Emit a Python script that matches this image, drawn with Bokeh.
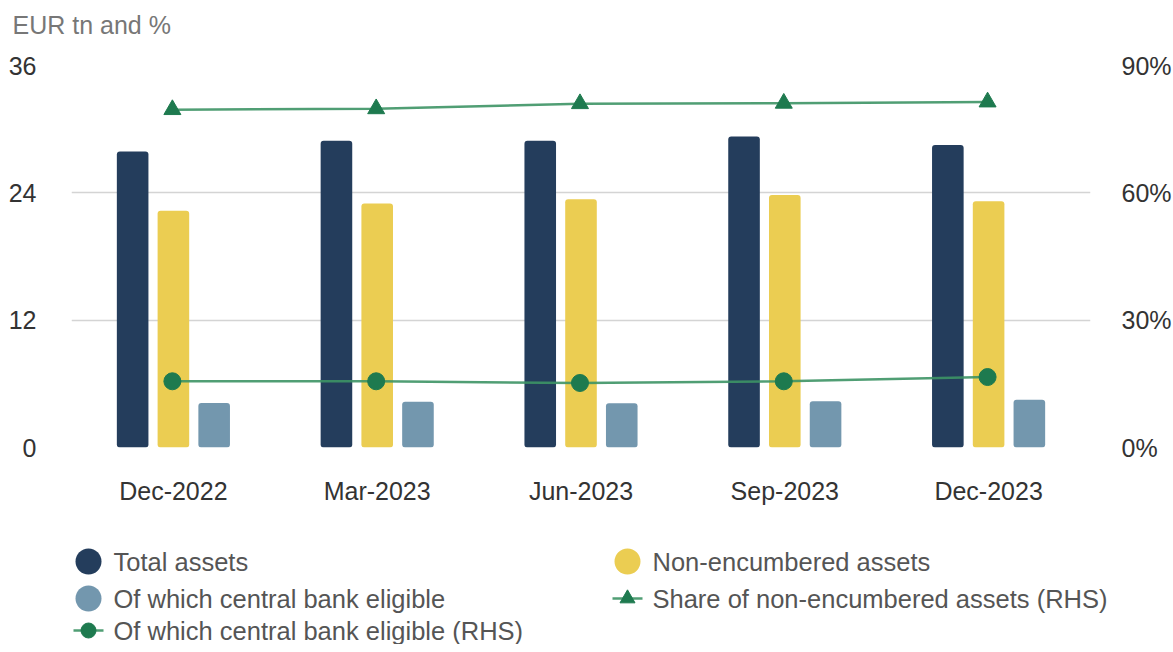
from bokeh.plotting import figure
from bokeh.models import ColumnDataSource, Range1d, LinearAxis, FactorRange, FixedTicker, CustomJSTickFormatter
from bokeh.transform import dodge
from bokeh.layouts import column
from bokeh.core.properties import value
from bokeh.embed import file_html
from bokeh.resources import INLINE

# ---- data ----
categories = ["Dec-2022", "Mar-2023", "Jun-2023", "Sep-2023", "Dec-2023"]
total_assets = [27.9, 28.9, 28.9, 29.3, 28.5]
non_encumbered = [22.3, 23.0, 23.4, 23.8, 23.2]
cb_eligible = [4.2, 4.3, 4.17, 4.36, 4.5]
share_non_enc = [79.6, 79.8, 81.0, 81.1, 81.4]
share_cb_eligible = [15.6, 15.6, 15.2, 15.6, 16.6]
left_ticks = [0, 12, 24, 36]
right_ticks = [0, 30, 60, 90]
title_text = "EUR tn and %"

series_names = ["Total assets", "Non-encumbered assets", "Of which central bank eligible",
                "Share of non-encumbered assets (RHS)", "Of which central bank eligible (RHS)"]

FONT = "Liberation Sans"
C_TOTAL = "#243d5c"
C_NONENC = "#ebcd52"
C_CB = "#7397ae"
C_GREEN = "#1e7a4f"
C_LINE = "#3d9465"
C_TICK = "#333333"

W = 1165

src = ColumnDataSource(dict(cat=categories, total=total_assets, nonenc=non_encumbered, cb=cb_eligible,
                            share=share_non_enc, cbshare=share_cb_eligible))


def no_align(f):
    if "frame_align" in f.properties():
        f.frame_align = False


# ---- title strip ----
TH = 50
tf = figure(width=W, height=TH, x_range=Range1d(0, W), y_range=Range1d(TH, 0),
            output_backend="svg", toolbar_location=None, min_border=0,
            x_axis_location=None, y_axis_location=None)
tf.outline_line_color = None
tf.xgrid.visible = False
tf.ygrid.visible = False
tf.text(x=[12], y=[24], text=[title_text], text_font=value(FONT), text_font_size="25px",
        text_color="#777777", text_baseline="middle", text_align="left")
no_align(tf)

# ---- main chart ----
p = figure(x_range=FactorRange(*categories), y_range=Range1d(0, 36),
           frame_width=1019, frame_height=382,
           output_backend="svg", toolbar_location=None,
           min_border_left=71, min_border_right=0, min_border_top=15, min_border_bottom=70)
p.extra_y_ranges = {"pct": Range1d(0, 90)}
p.outline_line_color = None
no_align(p)

bw = 0.155
p.vbar(x=dodge("cat", -0.2, range=p.x_range), top="total", width=bw, source=src,
       fill_color=C_TOTAL, line_color=None, border_radius=3)
p.vbar(x=dodge("cat", 0.0, range=p.x_range), top="nonenc", width=bw, source=src,
       fill_color=C_NONENC, line_color=None, border_radius=3)
p.vbar(x=dodge("cat", 0.2, range=p.x_range), top="cb", width=bw, source=src,
       fill_color=C_CB, line_color=None, border_radius=3)

xl = dodge("cat", -0.005, range=p.x_range)
p.line(x=xl, y="share", source=src, y_range_name="pct",
       line_color=C_LINE, line_width=2.5, line_alpha=0.9)
p.scatter(x=xl, y="share", source=src, y_range_name="pct",
          marker="triangle", size=17, fill_color=C_GREEN, line_color=C_GREEN)
p.line(x=xl, y="cbshare", source=src, y_range_name="pct",
       line_color=C_LINE, line_width=2.5, line_alpha=0.9)
p.scatter(x=xl, y="cbshare", source=src, y_range_name="pct",
          marker="circle", size=17, fill_color=C_GREEN, line_color=C_GREEN)

p.xaxis.axis_line_color = None
p.xaxis.major_tick_line_color = None
p.xaxis.minor_tick_line_color = None
p.xaxis.major_label_text_font = FONT
p.xaxis.major_label_text_font_size = "25px"
p.xaxis.major_label_text_color = C_TICK
p.xaxis.major_label_standoff = 23
p.xgrid.grid_line_color = None

p.yaxis.ticker = FixedTicker(ticks=left_ticks)
p.yaxis.axis_line_color = None
p.yaxis.major_tick_line_color = None
p.yaxis.minor_tick_line_color = None
p.yaxis.major_label_text_font = FONT
p.yaxis.major_label_text_font_size = "25px"
p.yaxis.major_label_text_color = C_TICK
p.yaxis.major_label_standoff = 29
p.ygrid.ticker = FixedTicker(ticks=left_ticks)
p.ygrid.grid_line_color = "#d4d4d4"
p.ygrid.grid_line_width = 1.5

ra = LinearAxis(y_range_name="pct", ticker=FixedTicker(ticks=right_ticks),
                formatter=CustomJSTickFormatter(code="return tick + '%'"))
ra.axis_line_color = None
ra.major_tick_line_color = None
ra.minor_tick_line_color = None
ra.major_label_text_font = FONT
ra.major_label_text_font_size = "25px"
ra.major_label_text_color = C_TICK
ra.major_label_standoff = 25
p.add_layout(ra, "right")

# ---- legend strip ----
LH = 127
lg = figure(width=W, height=LH, x_range=Range1d(0, W), y_range=Range1d(LH, 0),
            output_backend="svg", toolbar_location=None, min_border=0,
            x_axis_location=None, y_axis_location=None)
lg.outline_line_color = None
lg.xgrid.visible = False
lg.ygrid.visible = False
no_align(lg)

col_x = [88, 627]
row_y = [44, 81, 113]
text_off = 25
item_pos = [(0, 0), (1, 0), (0, 1), (1, 1), (0, 2)]
kinds = ["bar", "bar", "bar", "tri", "dot"]
colors = [C_TOTAL, C_NONENC, C_CB, C_GREEN, C_GREEN]

for name, (c, r), kind, col in zip(series_names, item_pos, kinds, colors):
    x0 = col_x[c]
    y0 = row_y[r]
    if kind == "bar":
        lg.scatter(x=[x0], y=[y0], marker="circle", size=26, fill_color=col, line_color=None)
    else:
        lg.line(x=[x0 - 15, x0 + 15], y=[y0, y0], line_color=C_LINE, line_width=2.5, line_alpha=0.9)
        lg.scatter(x=[x0], y=[y0], marker="triangle" if kind == "tri" else "circle", size=15,
                   fill_color=col, line_color=col)
    lg.text(x=[x0 + text_off], y=[y0], text=[name], text_font=value(FONT), text_font_size="25.5px",
            text_color="#555555", text_baseline="middle", text_align="left")

layout = column(tf, p, lg, spacing=0)
open("out.html", "w").write(file_html(layout, INLINE))
